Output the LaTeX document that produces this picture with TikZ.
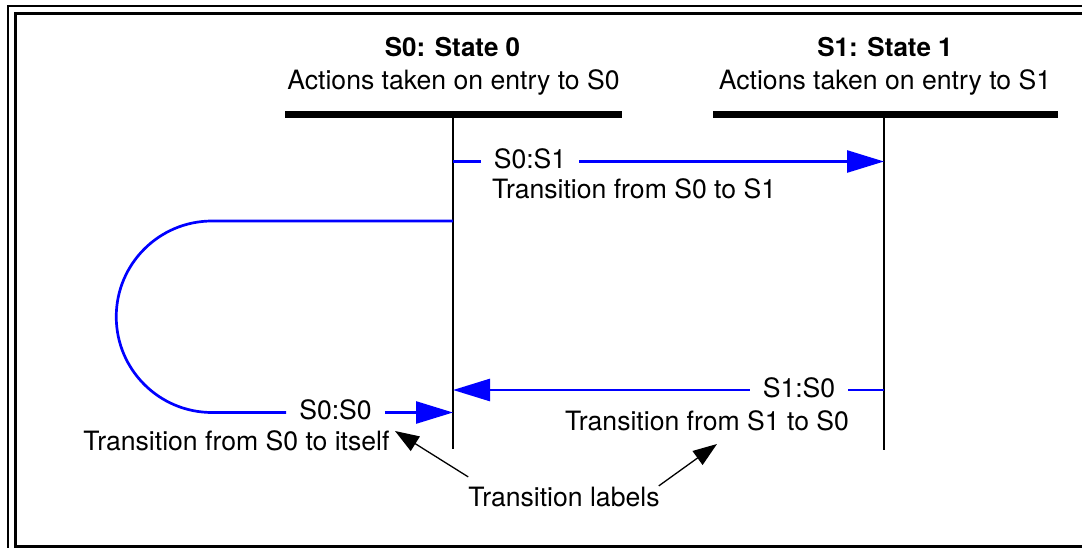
\documentclass[tikz,border=0pt]{standalone}
\usepackage{fontspec}
\setmainfont{TeX Gyre Heros}
\usetikzlibrary{arrows.meta}
\begin{document}
\begin{tikzpicture}[x=1pt,y=-1pt,
  txt/.style={font=\fontsize{26.6}{31}\selectfont, inner sep=0pt},
  ttl/.style={font=\fontsize{26}{31}\selectfont\bfseries, inner sep=0pt},
  life/.style={line width=2pt},
  bar/.style={fill=black, draw=none, minimum height=7pt, inner sep=0pt},
  trans/.style={draw=blue, line width=2.7pt},
  tarr/.style={trans, -{Triangle[length=37pt,width=22pt]}},
  tlab/.style={font=\fontsize{26.6}{31}\selectfont, inner xsep=13pt, inner ysep=0pt},
  ann/.style={line width=1.3pt, -{Triangle[length=24pt,width=17pt]}},
  frame/.style={line width=2.6pt}]
\useasboundingbox (0,0) rectangle (1082,548);
\clip (0,0) rectangle (1082,548);
% frames
\draw[frame] (7.8,6) rectangle (1200,600);
\draw[frame] (15.2,13.3) rectangle (1150,546.3);
% states
\node[ttl, anchor=base] (s0t) at (452.5,57) {S0: State 0};
\node[txt, anchor=base] (s0a) at (453.5,90) {Actions taken on entry to S0};
\node[ttl, anchor=base] (s1t) at (885,57) {S1: State 1};
\node[txt, anchor=base] (s1a) at (885,90) {Actions taken on entry to S1};
\node[bar, minimum width=337pt] (s0bar) at (453.5,114.5) {};
\node[bar, minimum width=345pt] (s1bar) at (885.5,114.5) {};
\coordinate (s0end) at (453,449);
\coordinate (s1end) at (884,450);
\draw[life] (s0bar.south -| s0end) -- (s0end);
\draw[life] (s1bar.south -| s1end) -- (s1end);
% lifeline points
\coordinate (s0p1) at (453,161.5);
\coordinate (s1p1) at (884,161.5);
\coordinate (s0loop) at (453,221);
\coordinate (s0in) at (453,412.5);
\coordinate (s1p2) at (884,390);
\coordinate (s0p2) at (453,390);
% transition labels
\node[tlab] (l01) at (530,159) {S0:S1};
\node[tlab] (l00) at (335.5,410) {S0:S0};
\node[tlab] (l10) at (799,388) {S1:S0};
\node[txt, anchor=west] (d01) at (492,189) {Transition from S0 to S1};
\node[txt] (d00) at (236.5,441) {Transition from S0 to itself};
\node[txt] (d10) at (707,421) {Transition from S1 to S0};
\node[txt] (tl) at (564,497) {Transition labels};
% transitions
\draw[trans] (s0p1) -- (s0p1 -| l01.west);
\draw[tarr] (s1p1 -| l01.east) -- (s1p1);
\draw[trans] (s0loop) -- (212,221) arc[start angle=270, end angle=90, radius=95.75] -- (s0in -| l00.west);
\draw[tarr] (s0in -| l00.east) -- (s0in);
\draw[trans] (s1p2) -- (s1p2 -| l10.east);
\draw[tarr] (s0p2 -| l10.west) -- (s0p2);
% annotation arrows
\coordinate (p1) at (395,431);
\coordinate (p2) at (717,444);
\draw[ann] ([shift={(0,-10)}]tl.north west) -- (p1);
\draw[ann] ([shift={(-1,-1)}]tl.north east) -- (p2);
\end{tikzpicture}
\end{document}
